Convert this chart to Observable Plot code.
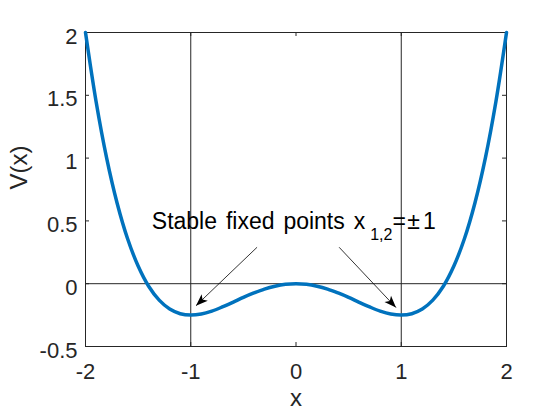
<!DOCTYPE html>
<html>
<head>
<meta charset="utf-8">
<script src="https://cdn.jsdelivr.net/npm/d3@7"></script>
<script src="https://cdn.jsdelivr.net/npm/@observablehq/plot@0.6"></script>
<style>
  html, body { margin: 0; padding: 0; background: #fff; }
</style>
</head>
<body>
<div id="chart"></div>
<script>
// ---- data ----
const xValues = [-2.0, -1.9, -1.8, -1.7, -1.6, -1.5, -1.4, -1.3, -1.2, -1.1, -1.0,
                 -0.9, -0.8, -0.7, -0.6, -0.5, -0.4, -0.3, -0.2, -0.1, 0.0,
                 0.1, 0.2, 0.3, 0.4, 0.5, 0.6, 0.7, 0.8, 0.9, 1.0,
                 1.1, 1.2, 1.3, 1.4, 1.5, 1.6, 1.7, 1.8, 1.9, 2.0];
const vValues = [2.000, 1.453, 1.004, 0.643, 0.358, 0.141, -0.020, -0.131, -0.202, -0.239, -0.250,
                 -0.241, -0.218, -0.185, -0.148, -0.109, -0.074, -0.043, -0.020, -0.005, 0.000,
                 -0.005, -0.020, -0.043, -0.074, -0.109, -0.148, -0.185, -0.218, -0.241, -0.250,
                 -0.239, -0.202, -0.131, -0.020, 0.141, 0.358, 0.643, 1.004, 1.453, 2.000];
const xDomain = [-2, 2];
const yDomain = [-0.5, 2];
const xTicks = [-2, -1, 0, 1, 2];
const xTickLabels = ["-2", "-1", "0", "1", "2"];
const yTicks = [-0.5, 0, 0.5, 1, 1.5, 2];
const yTickLabels = ["-0.5", "0", "0.5", "1", "1.5", "2"];
const fixedPoints = [-1, 1];
const zeroLine = [0];
const xLabel = "x";
const yLabel = "V(x)";
const annotationMain = "Stable fixed points x";
const annotationSub = "1,2";
const annotationEq = "=";
const annotationPm = "\u00B1";
const annotationOne = "1";
const annotationX = [-1.37];
const annotationY = [0.435];
const arrowX1 = [-0.37, 0.41];
const arrowY1 = [0.29, 0.29];
const arrowX2 = [-0.95, 0.95];
const arrowY2 = [-0.175, -0.19];

// ---- layout ----
const W = 560, H = 420;
const mL = 85, mR = 54, mT = 32, mB = 74;
const font = "'Liberation Sans', Arial, Helvetica, sans-serif";
const ink = "#262626";
const tickLen = 4;

const curve = xValues.map((x, i) => ({x, v: vValues[i]}));
const arrows = arrowX1.map((x1, i) => ({x1, y1: arrowY1[i], x2: arrowX2[i], y2: arrowY2[i]}));
// pixel-space direction of each arrow (from scale ranges) for head rotation
const sx = (W - mL - mR) / (xDomain[1] - xDomain[0]);
const sy = (H - mT - mB) / (yDomain[1] - yDomain[0]);
arrows.forEach(a => {
  const dx = (a.x2 - a.x1) * sx, dy = -(a.y2 - a.y1) * sy;
  a.angle = Math.atan2(dx, -dy) * 180 / Math.PI;
});
const full = annotationMain + annotationSub + annotationEq + annotationPm + annotationOne;
const annotation = annotationX.map((x, i) => ({x, y: annotationY[i], t: full}));

const headShape = {
  draw(context, l) {
    context.moveTo(0, -l);
    context.lineTo(-4.5, 0);
    context.lineTo(0, -3);
    context.lineTo(4.5, 0);
    context.closePath();
  }
};

const plot = Plot.plot({
  width: W, height: H,
  marginLeft: mL, marginRight: mR, marginTop: mT, marginBottom: mB,
  x: {domain: xDomain},
  y: {domain: yDomain},
  style: {fontFamily: font, fontSize: "22px", color: ink, background: "white"},
  marks: [
    Plot.ruleX(fixedPoints, {stroke: ink, strokeWidth: 1}),
    Plot.ruleY(zeroLine, {stroke: ink, strokeWidth: 1}),
    // inward ticks on all four sides
    Plot.ruleX(xTicks, {y1: yDomain[0], y2: yDomain[0], insetTop: -tickLen, stroke: ink}),
    Plot.ruleX(xTicks, {y1: yDomain[1], y2: yDomain[1], insetBottom: -tickLen, stroke: ink}),
    Plot.ruleY(yTicks, {x1: xDomain[0], x2: xDomain[0], insetRight: -tickLen, stroke: ink}),
    Plot.ruleY(yTicks, {x1: xDomain[1], x2: xDomain[1], insetLeft: -tickLen, stroke: ink}),
    Plot.frame({stroke: ink, strokeWidth: 1}),
    Plot.line(curve, {x: "x", y: "v", stroke: "#0072BD", strokeWidth: 3.5, curve: "catmull-rom"}),
    Plot.link(arrows, {x1: "x1", y1: "y1", x2: "x2", y2: "y2", stroke: "#000", strokeWidth: 0.8}),
    Plot.vector(arrows, {x: "x2", y: "y2", rotate: "angle", length: 12, anchor: "end",
                         shape: headShape, fill: "#000", stroke: "none"}),
    Plot.text(annotation, {x: "x", y: "y", text: "t", textAnchor: "start", lineAnchor: "bottom",
                           fontSize: 23, fill: "#000"}),
    Plot.axisX(xTicks, {tickSize: 0, tickPadding: 17, label: null,
                        tickFormat: d => xTickLabels[xTicks.indexOf(d)], fontSize: 22, fill: ink}),
    Plot.axisY(yTicks, {tickSize: 0, tickPadding: 8, label: null, dy: 4,
                        tickFormat: d => yTickLabels[yTicks.indexOf(d)], fontSize: 22, fill: ink}),
    Plot.text([xLabel], {frameAnchor: "bottom", dy: 59, fontSize: 24, fill: ink}),
    Plot.text([yLabel], {frameAnchor: "left", dx: -66, rotate: -90, fontSize: 24, fill: ink})
  ]
});

// TeX-like subscript formatting of the annotation
plot.querySelectorAll("text").forEach(t => {
  if (t.textContent === full) {
    while (t.firstChild) t.removeChild(t.firstChild);
    const ns = "http://www.w3.org/2000/svg";
    const span = (txt, attrs) => {
      const s = document.createElementNS(ns, "tspan");
      s.textContent = txt;
      for (const k in attrs) s.setAttribute(k, attrs[k]);
      t.appendChild(s);
    };
    span(annotationMain, {"word-spacing": "2.5"});
    span(annotationSub, {dx: "5", dy: "11", "font-size": "16"});
    span(annotationEq, {dx: "0", dy: "-11"});
    span(annotationPm, {dx: "1.5"});
    span(annotationOne, {dx: "3"});
  }
});

document.getElementById("chart").appendChild(plot);
</script>
</body>
</html>
